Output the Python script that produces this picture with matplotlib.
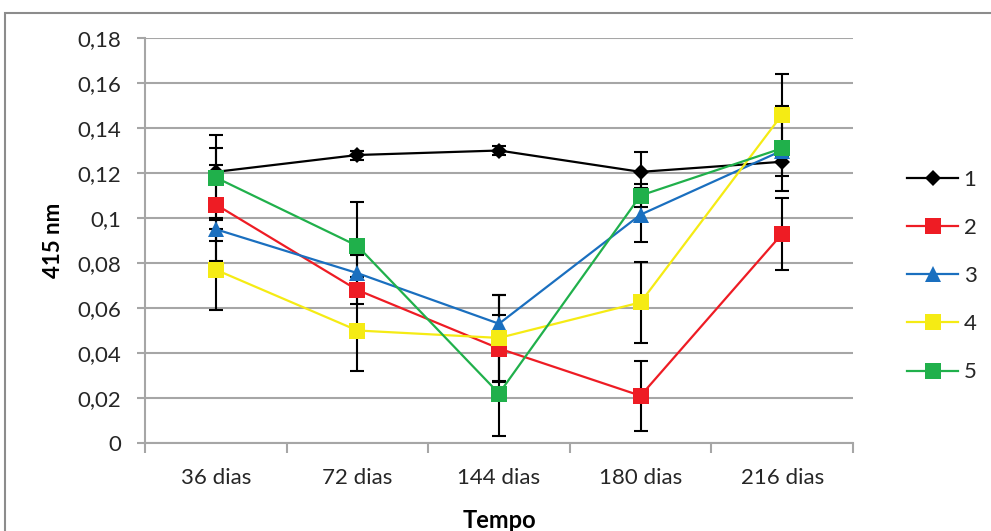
import matplotlib.pyplot as plt
from matplotlib.patches import Rectangle
from matplotlib.ticker import FuncFormatter, FixedLocator

plt.rcParams['font.family'] = ['Lato', 'DejaVu Sans']
plt.rcParams['text.color'] = '#262626'
plt.rcParams['xtick.labelcolor'] = '#262626'
plt.rcParams['ytick.labelcolor'] = '#262626'

# data
categories = ["36 dias", "72 dias", "144 dias", "180 dias", "216 dias"]
series_names = ["1", "2", "3", "4", "5"]
s1 = [0.1205, 0.128, 0.130, 0.1205, 0.125]
s2 = [0.106, 0.068, 0.042, 0.021, 0.093]
s3 = [0.095, 0.0755, 0.053, 0.1015, 0.130]
s4 = [0.077, 0.050, 0.0467, 0.0625, 0.146]
s5 = [0.118, 0.0876, 0.022, 0.110, 0.131]
e1 = [0.003, 0.002, 0.002, 0.009, 0.0065]
e2 = [0.025, 0.006, 0.015, 0.0155, 0.016]
e3 = [0.005, 0.008, 0.013, 0.012, 0.003]
e4 = [0.018, 0.018, 0.019, 0.018, 0.018]
e5 = [0.019, 0.0195, 0.019, 0.005, 0.019]

values = [s1, s2, s3, s4, s5]
errors = [e1, e2, e3, e4, e5]
colors = ["#000000", "#EE1C24", "#1A6FBF", "#F5EB14", "#20B04B"]
markers = ["D", "s", "^", "s", "s"]
msizes = [8, 11, 11, 11, 11]

fig = plt.figure(figsize=(9.91, 5.31), dpi=100)
fig.patches.append(Rectangle((5 / 991, -0.05), 1.2, 1 - 13 / 531 + 0.05,
                             transform=fig.transFigure, fill=False,
                             edgecolor="#8c8c8c", linewidth=1.5))
ax = fig.add_axes([145 / 991, 1 - 443 / 531, (853 - 145) / 991, (443 - 38) / 531])

x = list(range(len(categories)))

# error bars beneath the markers
for vals, errs in zip(values, errors):
    ax.errorbar(x, vals, yerr=errs, fmt="none", ecolor="black",
                elinewidth=1.5, capsize=5, capthick=1.5, zorder=2)

handles = []
for i, vals in enumerate(values):
    h, = ax.plot(x, vals, color=colors[i], marker=markers[i], markersize=msizes[i],
                 linewidth=1.6, markeredgewidth=0, zorder=3 + i, label=series_names[i])
    handles.append(h)

ax.set_xlim(-0.5, len(categories) - 0.5)
ax.set_ylim(0, 0.18)
ax.set_yticks([i * 0.02 for i in range(10)])
ax.yaxis.set_major_formatter(FuncFormatter(lambda v, p: f"{round(v, 2):g}".replace(".", ",")))
ax.set_xticks(x)
ax.set_xticklabels(categories)
ax.xaxis.set_minor_locator(FixedLocator([i - 0.5 for i in range(len(categories) + 1)]))

ax.grid(axis="y", color="#a6a6a6", linewidth=1.5, zorder=0)
ax.set_axisbelow(True)
for side in ["top", "right"]:
    ax.spines[side].set_visible(False)
for side in ["left", "bottom"]:
    ax.spines[side].set_color("#a6a6a6")
    ax.spines[side].set_linewidth(1.5)

ax.tick_params(axis="y", length=6, width=1.5, color="#a6a6a6", labelsize=16, pad=11)
ax.tick_params(axis="x", which="major", length=0, labelsize=16, pad=18)
ax.tick_params(axis="x", which="minor", length=7, width=1.5, color="#a6a6a6")

ax.set_ylabel("415 nm", fontsize=16, fontweight="bold", labelpad=10)
ax.set_xlabel("Tempo", fontsize=17, fontweight="bold", labelpad=15)

fig.legend(handles=handles, loc="center left", bbox_to_anchor=(907 / 991, 1 - 276 / 531),
           frameon=False, fontsize=16, handlelength=2.3, labelspacing=1.27,
           handletextpad=0.25, borderpad=0, borderaxespad=0)

plt.savefig("out.png", dpi=100)
